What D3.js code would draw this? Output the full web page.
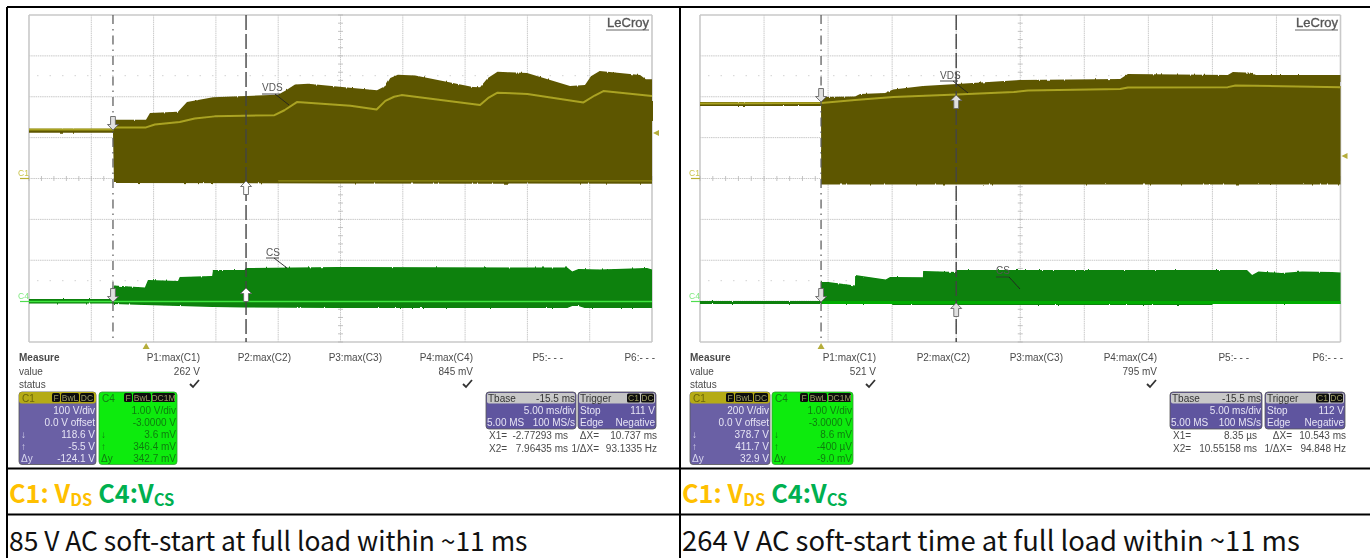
<!DOCTYPE html>
<html><head><meta charset="utf-8">
<style>html,body{margin:0;padding:0;background:#fff;overflow:hidden}svg{display:block}text{font-family:"Liberation Sans",Arial,sans-serif}</style>
<script src="https://cdn.jsdelivr.net/npm/d3@7/dist/d3.min.js"></script></head><body>
<svg id="c" width="1370" height="558"></svg>
<script>
// time in ms, C1 in volts, C4 in millivolts
const leftVdsTop=[[0,122],[6.74,122],[6.82,144],[9.39,144],[9.71,160],[11.96,163],[12.68,187],[14.77,199],[19.34,204],[19.98,205],[20.6,215],[21.35,230],[22.4,232],[25.76,222],[27.93,216],[28.6,226],[29.0,246],[29.6,254],[31,252],[35.63,224],[36.2,223],[36.8,245],[37.6,261],[39.97,258],[43.42,226],[44.62,229],[45.1,250],[45.8,263],[49.04,253],[49.5,243],[50,243]];
const leftVdsBottom=[[0,112],[6.74,112],[6.82,-11],[25,-12],[50,-13]];
const leftVdsMid=[[0,120],[6.74,120],[6.82,125],[9.39,125],[10.1,132],[12.1,138],[13.3,147],[14.9,152],[19.7,155],[20.5,167],[21.5,187],[25.8,178],[27.9,169],[28.6,190],[29.3,200],[29.9,204],[36.2,180],[36.9,198],[37.6,210],[40,207],[44.5,186],[45.4,203],[46.1,214],[50,202]];
const leftVdsLow=[[20,-6],[50,-6]];
const leftCsTop=[[0,61],[6.74,61],[6.82,391],[9.3,342],[9.55,526],[11.96,501],[12.1,599],[14.7,623],[14.77,770],[17.3,770],[17.4,819],[25,843],[43.2,831],[43.6,733],[44.1,794],[45.8,782],[49.6,819],[50,782]];
const leftCsBottom=[[0,-49],[6.74,-49],[6.82,-61],[9.3,-86],[14.77,-134],[17.3,-147],[25,-159],[43.2,-159],[43.6,-110],[44.1,-110],[44.6,-159],[50,-159]];
const rightVdsTop=[[0,374],[9.45,374],[9.46,399],[12.1,401],[12.5,413],[14.45,418],[15.08,435],[17.4,452],[20.05,462],[25,482],[32.8,487],[33.4,511],[41.2,506],[41.6,521],[43,518],[43.4,506],[50,506]];
const rightVdsBottom=[[0,355],[9.45,355],[9.46,-29],[50,-29]];
const rightVdsMid=[[0,367],[9.45,369],[12.1,384],[15.1,399],[20.05,411],[24.5,423],[25.6,430],[32.8,438],[33.4,445],[41.2,447],[41.8,455],[50,447]];
const rightCsTop=[[0,37],[9.45,37],[9.46,501],[10,501],[12.1,416],[12.11,672],[13.7,599],[14.5,562],[14.84,623],[17.4,616],[17.42,770],[20.05,746],[20.06,795],[42.7,795],[43.1,672],[43.6,758],[45.4,721],[47,758],[49.3,746],[50,733]];
const rightCsBottom=[[0,-37],[9.45,-37],[15,-37],[15.01,-61],[40,-61],[40.01,-37],[50,-37]];
const rightCsBand=[[9.45,0],[50,0]];
const measureHeads=["P1:max(C1)","P2:max(C2)","P3:max(C3)","P4:max(C4)","P5:- - -","P6:- - -"];
const measureRows=["Measure","value","status"];
const chanFlags=["F","BwL","DC"];
const chan4Flags=["F","BwL","DC1M"];
const arrowLabels=["↓","↑","Δy"];
const leftC1=["100 V/div","0.0 V offset","118.6 V","-5.5 V","-124.1 V"];
const leftC4=["1.00 V/div","-3.0000 V","3.6 mV","346.4 mV","342.7 mV"];
const rightC1=["200 V/div","0.0 V offset","378.7 V","411.7 V","32.9 V"];
const rightC4=["1.00 V/div","-3.0000 V","8.6 mV","-400 µV","-9.0 mV"];
const titleParts=[["C1: V","DS","#ffc000"],["C4:V","CS","#00b050"]];

const panels=[
 {x0:29,x1:652,c1PerDiv:100,top:leftVdsTop,bot:leftVdsBottom,mid:leftVdsMid,low:leftVdsLow,csTop:leftCsTop,csBot:leftCsBottom,
  csLine:[[0,0],[50,0]],csW:1.3,csLineCol:"#3fe63f",cur1:6.74,cur2:17.42,trigT:9.4,trigV:111,zeroCs:301.5,
  arrows:[[178.5,130,0],[178.5,181,1,1],[301.5,302,0,0,1],[301.5,288,1,1,1]],
  vds:[262,91,275,94,289,105],cs:[266,256,274,258,287,268],
  mx:[19,200,291,382,473,563,655],val:"262 V",val4:"845 mV",c1:leftC1,c4:leftC4,
  b1:[19,96],b4:[99,177],bT:[486,576],bG:[578,656],caption:"85 V AC soft-start at full load within ~11 ms",tx:9,capSize:26.4,
  tb:["-15.5 ms","111 V"],xr:["X1=","-2.77293 ms","ΔX=","10.737 ms"],xr2:["X2=","7.96435 ms","1/ΔX=","93.1335 Hz"],
  xc:[489,568,599,657],logo:649,rightMarkY:133},
 {x0:700,x1:1340.5,c1PerDiv:200,top:rightVdsTop,bot:rightVdsBottom,mid:rightVdsMid,low:null,csTop:rightCsTop,csBot:rightCsBottom,
  csLine:rightCsBand,csW:3,csLineCol:"#06ad06",cur1:9.45,cur2:20.0,trigT:9.45,trigV:112,zeroCs:302.5,
  arrows:[[178.5,102,0],[178.5,95,1],[301.5,302,0,0,1],[301.5,303,1,0,1]],
  vds:[940,79,953,81,968,93],cs:[996,274,1009,277,1020,289],
  mx:[690,876,970,1063,1157,1249,1343],val:"521 V",val4:"795 mV",c1:rightC1,c4:rightC4,
  b1:[690,770],b4:[772,853],bT:[1170,1262],bG:[1265,1345],caption:"264 V AC soft-start time at full load within ~11 ms",tx:682,capSize:27.4,
  tb:["-15.5 ms","112 V"],xr:["X1=","8.35 µs","ΔX=","10.543 ms"],xr2:["X2=","10.55158 ms","1/ΔX=","94.848 Hz"],
  xc:[1173,1257,1292,1346],logo:1338,rightMarkY:156}
];

const svg=d3.select("#c");
const defs=svg.append("defs");
defs.append("filter").attr("id","soft").attr("x","-2%").attr("y","-2%").attr("width","104%").attr("height","104%")
  .append("feGaussianBlur").attr("stdDeviation",0.45);
const rough=defs.append("filter").attr("id","rough").attr("x","-2%").attr("y","-5%").attr("width","104%").attr("height","110%");
rough.append("feTurbulence").attr("type","fractalNoise").attr("baseFrequency","0.35 0.02").attr("numOctaves",2).attr("seed",4).attr("result","n");
rough.append("feDisplacementMap").attr("in","SourceGraphic").attr("in2","n").attr("scale",2.2).attr("xChannelSelector","A").attr("yChannelSelector","R");
const ink="#4a4a4a";

panels.forEach(p=>{
  const g=svg.append("g").attr("filter","url(#soft)");
  const x=d3.scaleLinear().domain([0,50]).range([p.x0,p.x1]);
  const divH=40.875;
  const y1=d3.scaleLinear().domain([0,p.c1PerDiv]).range([178.5,178.5-divH]);
  const y4=d3.scaleLinear().domain([0,1000]).range([p.zeroCs,p.zeroCs-divH]);
  const yGrid=d3.scaleLinear().domain([0,8]).range([15,342]);
  const ctr=x(25);
  d3.range(0,11).forEach(i=>{
    const t=i*5;
    const edge=i===0||i===10;
    g.append("line").attr("x1",x(t)).attr("x2",x(t)).attr("y1",15).attr("y2",342)
     .attr("stroke","#c9c9c9").attr("stroke-width",edge?1.6:1).attr("stroke-dasharray",edge?null:"1.5 0.7");
  });
  d3.range(0,9).forEach(i=>{
    const edge=i===0||i===8;
    g.append("line").attr("x1",p.x0).attr("x2",p.x1).attr("y1",yGrid(i)).attr("y2",yGrid(i))
     .attr("stroke","#c9c9c9").attr("stroke-width",edge?1.6:1).attr("stroke-dasharray",edge?null:"1.5 0.7");
  });
  [75.7,280.7].forEach(yy=>g.append("line").attr("x1",p.x0+8).attr("x2",p.x1-8).attr("y1",yy).attr("y2",yy)
     .attr("stroke","#d2d2d2").attr("stroke-width",1).attr("stroke-dasharray","1.5 11"));
  d3.range(0,41).forEach(i=>{
    const yy=yGrid(i/5);
    g.append("line").attr("x1",ctr-2.5).attr("x2",ctr+2.5).attr("y1",yy).attr("y2",yy).attr("stroke","#b5b5b5").attr("stroke-width",0.8);
  });
  d3.range(0,51).forEach(i=>{
    const xx=x(i);
    g.append("line").attr("x1",xx).attr("x2",xx).attr("y1",176).attr("y2",181).attr("stroke","#b5b5b5").attr("stroke-width",0.8);
  });
  const ln=(sx,sy)=>d3.line().x(d=>sx(d[0])).y(d=>sy(d[1]));
  g.append("path").attr("d",ln(x,y1)(p.top.concat(p.bot.slice().reverse()))+"Z").attr("fill","#5d5600").attr("filter","url(#rough)");
  g.append("path").attr("d",ln(x,y1)(p.mid)).attr("fill","none").attr("stroke","#aaa322").attr("stroke-width",2).attr("stroke-linejoin","round");
  if(p.low) g.append("path").attr("d",ln(x,y1)(p.low)).attr("fill","none").attr("stroke","#8f8810").attr("stroke-width",1.2);
  g.append("path").attr("d",ln(x,y4)(p.csTop.concat(p.csBot.slice().reverse()))+"Z").attr("fill","#078107").attr("filter","url(#rough)");
  g.append("path").attr("d",ln(x,y4)(p.csLine)).attr("fill","none").attr("stroke",p.csLineCol).attr("stroke-width",p.csW);
  g.append("line").attr("x1",x(p.cur1)).attr("x2",x(p.cur1)).attr("y1",15).attr("y2",342).attr("stroke","#555").attr("stroke-width",1.2).attr("stroke-dasharray","9 5 1.5 5");
  g.append("line").attr("x1",x(p.cur2)).attr("x2",x(p.cur2)).attr("y1",15).attr("y2",342).attr("stroke","#444").attr("stroke-width",1.4).attr("stroke-dasharray","15 4");
  p.arrows.forEach((a,i)=>{
    const cx=i%2===0?x(p.cur1):x(p.cur2);
    const tip=a[1],up=a[2],d=up?1:-1;
    const pts=[[0,0],[5.5,5.5],[2.4,5.5],[2.4,13.5],[-2.4,13.5],[-2.4,5.5],[-5.5,5.5]];
    g.append("path").attr("d",d3.line()(pts.map(q=>[cx+q[0],tip+d*q[1]]))+"Z")
      .attr("fill",a[3]?"#fff":"#e0e0e0").attr("stroke","#666").attr("stroke-width",0.9);
  });
  [["VDS",p.vds],["CS",p.cs]].forEach(([t,v])=>{
    g.append("text").text(t).attr("x",v[0]).attr("y",v[1]).attr("font-size",10).attr("fill","#555");
    g.append("line").attr("x1",v[0]).attr("x2",v[0]+(t==="VDS"?18:13)).attr("y1",v[3]).attr("y2",v[3]).attr("stroke","#333").attr("stroke-width",0.9);
    g.append("line").attr("x1",v[2]).attr("y1",v[3]).attr("x2",v[4]).attr("y2",v[5]).attr("stroke","#222").attr("stroke-width",0.9);
  });
  g.append("text").text("C1").attr("x",p.x0-11).attr("y",176).attr("font-size",8.5).attr("fill","#c9c34a");
  g.append("line").attr("x1",p.x0-9).attr("x2",p.x0).attr("y1",178.5).attr("y2",178.5).attr("stroke","#b8b030").attr("stroke-width",1.2);
  g.append("text").text("C4").attr("x",p.x0-11).attr("y",299).attr("font-size",8.5).attr("fill","#7fe87f");
  g.append("line").attr("x1",p.x0-9).attr("x2",p.x0).attr("y1",301.5).attr("y2",301.5).attr("stroke","#4fdc4f").attr("stroke-width",1.2);
  const tx=x(p.trigT);
  g.append("path").attr("d",d3.line()([[tx,343],[tx+3.5,349],[tx-3.5,349]])+"Z").attr("fill","#b5ad3a");
  g.append("path").attr("d",d3.line()([[p.x1+1,p.rightMarkY],[p.x1+7,p.rightMarkY-3],[p.x1+7,p.rightMarkY+3]])+"Z").attr("fill","#b5ad3a");
  g.append("text").text("LeCroy").attr("x",p.logo).attr("y",27).attr("text-anchor","end").attr("font-size",13).attr("fill","#555").attr("stroke","#555").attr("stroke-width",0.35);
  g.append("line").attr("x1",p.logo-43).attr("x2",p.logo).attr("y1",30).attr("y2",30).attr("stroke","#666").attr("stroke-width",1);
  const rowY=[361,374.5,387.5];
  measureRows.forEach((t,i)=>g.append("text").text(t).attr("x",p.mx[0]).attr("y",rowY[i]).attr("font-size",10).attr("font-weight",i?400:700).attr("fill",ink));
  measureHeads.forEach((t,i)=>g.append("text").text(t).attr("x",p.mx[i+1]).attr("y",rowY[0]).attr("text-anchor","end").attr("font-size",10).attr("fill",ink));
  [[1,p.val],[4,p.val4]].forEach(([i,t])=>{
    g.append("text").text(t).attr("x",p.mx[i]).attr("y",rowY[1]).attr("text-anchor","end").attr("font-size",10).attr("fill",ink);
    const cx=p.mx[i]-5;
    g.append("path").attr("d",d3.line()([[cx-5,384],[cx-2,387],[cx+4,380]])).attr("fill","none").attr("stroke","#333").attr("stroke-width",1.8);
  });
  const body=(b,fill,stroke)=>g.append("rect").attr("x",b[0]).attr("y",392).attr("width",b[1]-b[0]).attr("height",72.5).attr("rx",3).attr("fill",fill).attr("stroke",stroke).attr("stroke-width",0.8);
  const badges=(b,flags,widths,yy)=>{
    let r=b[1]-2;
    flags.slice().reverse().forEach((f,k)=>{
      const w=widths[flags.length-1-k];
      g.append("rect").attr("x",r-w).attr("y",yy).attr("width",w).attr("height",9).attr("rx",1.5).attr("fill","#111");
      g.append("text").text(f).attr("x",r-w/2).attr("y",yy+7.5).attr("text-anchor","middle").attr("font-size",8.5).attr("fill","#9a9a60");
      r-=w+1;
    });
  };
  const rows=[414,426,438,450,461.5];
  body(p.b1,"#6a60a5","#555");
  g.append("rect").attr("x",p.b1[0]).attr("y",392).attr("width",p.b1[1]-p.b1[0]).attr("height",11.5).attr("rx",3).attr("fill","#b5ab14");
  g.append("text").text("C1").attr("x",p.b1[0]+3).attr("y",402).attr("font-size",10).attr("fill","#6a6410");
  badges(p.b1,chanFlags,[8,18,14],393);
  p.c1.forEach((t,i)=>g.append("text").text(t).attr("x",p.b1[1]-1).attr("y",rows[i]).attr("text-anchor","end").attr("font-size",10).attr("fill","#e6e4f4"));
  arrowLabels.forEach((t,i)=>g.append("text").text(t).attr("x",p.b1[0]+2).attr("y",rows[i+2]).attr("font-size",10).attr("fill","#d8d6ee"));
  body(p.b4,"#0ceb0c","#3a9a3a");
  g.append("text").text("C4").attr("x",p.b4[0]+3).attr("y",402).attr("font-size",10).attr("fill","#157a15");
  badges(p.b4,chan4Flags,[8,18,23],393);
  p.c4.forEach((t,i)=>g.append("text").text(t).attr("x",p.b4[1]-1).attr("y",rows[i]).attr("text-anchor","end").attr("font-size",10).attr("fill","#0f7d0f"));
  arrowLabels.forEach((t,i)=>g.append("text").text(t).attr("x",p.b4[0]+2).attr("y",rows[i+2]).attr("font-size",10).attr("fill","#0f7d0f"));
  [p.bT,p.bG].forEach((b,i)=>{
    g.append("rect").attr("x",b[0]).attr("y",392).attr("width",b[1]-b[0]).attr("height",37).attr("rx",3).attr("fill","#5f559f").attr("stroke","#555").attr("stroke-width",0.8);
    g.append("rect").attr("x",b[0]+1).attr("y",393).attr("width",b[1]-b[0]-2).attr("height",10.5).attr("rx",2).attr("fill",i?"#c4c4c4":"#c8c8c8");
  });
  const L=p.bT[0]+2,R=p.bT[1]-1;
  g.append("text").text("Tbase").attr("x",L).attr("y",402).attr("font-size",10).attr("fill","#333");
  g.append("text").text(p.tb[0]).attr("x",R).attr("y",402).attr("text-anchor","end").attr("font-size",10).attr("fill","#333");
  g.append("text").text("5.00 ms/div").attr("x",R).attr("y",414).attr("text-anchor","end").attr("font-size",10).attr("fill","#e6e4f4");
  g.append("text").text("5.00 MS").attr("x",L-1).attr("y",426).attr("font-size",10).attr("fill","#e6e4f4");
  g.append("text").text("100 MS/s").attr("x",R).attr("y",426).attr("text-anchor","end").attr("font-size",10).attr("fill","#e6e4f4");
  const L2=p.bG[0]+2,R2=p.bG[1]-1;
  g.append("text").text("Trigger").attr("x",L2).attr("y",402).attr("font-size",10).attr("fill","#333");
  badges(p.bG,["C1","DC"],[13,13],393.5);
  g.append("text").text("Stop").attr("x",L2).attr("y",414).attr("font-size",10).attr("fill","#e6e4f4");
  g.append("text").text(p.tb[1]).attr("x",R2).attr("y",414).attr("text-anchor","end").attr("font-size",10).attr("fill","#e6e4f4");
  g.append("text").text("Edge").attr("x",L2).attr("y",426).attr("font-size",10).attr("fill","#e6e4f4");
  g.append("text").text("Negative").attr("x",R2).attr("y",426).attr("text-anchor","end").attr("font-size",10).attr("fill","#e6e4f4");
  [[p.xr,438.5],[p.xr2,452]].forEach(([r,yy])=>{
    g.append("text").text(r[0]).attr("x",p.xc[0]).attr("y",yy).attr("font-size",10).attr("fill",ink);
    g.append("text").text(r[1]).attr("x",p.xc[1]).attr("y",yy).attr("text-anchor","end").attr("font-size",10).attr("fill",ink);
    g.append("text").text(r[2]).attr("x",p.xc[2]).attr("y",yy).attr("text-anchor","end").attr("font-size",10).attr("fill",ink);
    g.append("text").text(r[3]).attr("x",p.xc[3]).attr("y",yy).attr("text-anchor","end").attr("font-size",10).attr("fill",ink);
  });
  const cap=svg.append("text").attr("x",p.tx).attr("y",503).style("font-family","'Noto Sans CJK SC'").attr("font-weight",700).attr("font-size",25.3);
  titleParts.forEach((t,i)=>{
    cap.append("tspan").text(t[0]).attr("fill",t[2]).attr("dx",i?6:0).attr("dy",i?-3:0);
    cap.append("tspan").text(t[1]).attr("fill",t[2]).attr("dy",3).attr("font-size",16.5);
  });
  svg.append("text").attr("x",p.tx).attr("y",551).text(p.caption).style("font-family","'Noto Sans CJK SC'").attr("font-size",p.capSize).attr("fill","#111");
});
[[7,7,7,558],[680,7,680,558],[7,7,1370,7],[7,468.5,1370,468.5],[7,514.5,1370,514.5]].forEach(l=>
  svg.append("line").attr("x1",l[0]).attr("y1",l[1]).attr("x2",l[2]).attr("y2",l[3]).attr("stroke","#000").attr("stroke-width",2));
</script></body></html>
